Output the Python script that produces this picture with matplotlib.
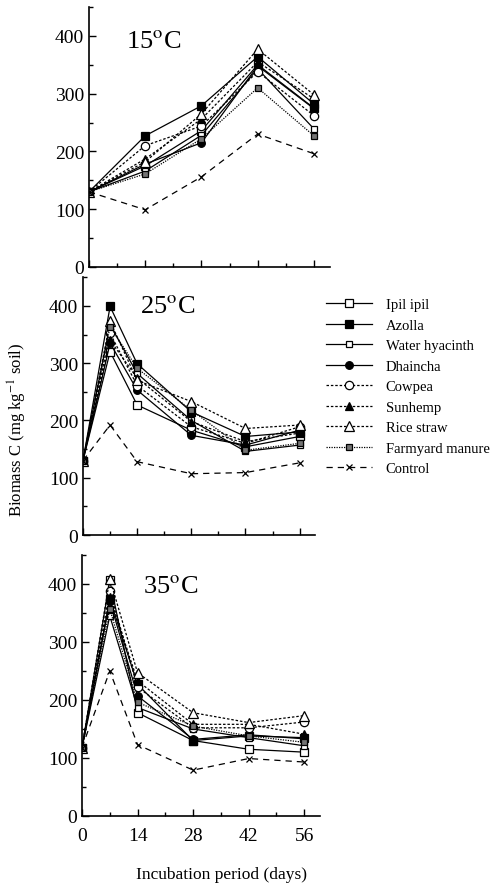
import matplotlib.pyplot as plt
from matplotlib.ticker import MultipleLocator

plt.rcParams['font.family'] = ['Liberation Serif', 'DejaVu Serif']
plt.rcParams['mathtext.fontset'] = 'stix'

##########
#  DATA  #
##########
names = ['Ipil ipil', 'Azolla', 'Water hyacinth', 'Dhaincha', 'Cowpea',
         'Sunhemp', 'Rice straw', 'Farmyard manure', 'Control']

days_15 = [0, 14, 28, 42, 56]
days_hot = [0, 7, 14, 28, 42, 56]

# 15 C
ipil_15 = [130, 175, 236, 350, 275]
azolla_15 = [130, 227, 279, 364, 282]
hyacinth_15 = [130, 166, 228, 343, 239]
dhaincha_15 = [130, 178, 215, 348, 274]
cowpea_15 = [130, 210, 244, 338, 262]
sunhemp_15 = [130, 187, 256, 355, 291]
rice_15 = [130, 182, 265, 377, 298]
fym_15 = [130, 161, 222, 310, 227]
control_15 = [130, 99, 156, 230, 196]

# 25 C
ipil_25 = [130, 320, 227, 183, 154, 172]
azolla_25 = [130, 399, 299, 215, 172, 180]
hyacinth_25 = [130, 367, 282, 200, 146, 157]
dhaincha_25 = [130, 335, 253, 174, 157, 183]
cowpea_25 = [130, 352, 261, 189, 160, 189]
sunhemp_25 = [130, 340, 274, 198, 163, 178]
rice_25 = [130, 373, 270, 233, 186, 192]
fym_25 = [130, 364, 291, 218, 148, 160]
control_25 = [130, 192, 128, 107, 109, 126]

# 35 C
ipil_35 = [118, 406, 178, 130, 115, 110]
azolla_35 = [118, 374, 227, 130, 138, 135]
hyacinth_35 = [118, 345, 187, 150, 135, 121]
dhaincha_35 = [118, 371, 207, 132, 140, 133]
cowpea_35 = [118, 388, 222, 152, 152, 162]
sunhemp_35 = [118, 377, 233, 158, 158, 141]
rice_35 = [118, 409, 247, 178, 161, 173]
fym_35 = [118, 357, 196, 155, 138, 127]
control_35 = [118, 250, 123, 79, 99, 93]

panels = [
    ('15', days_15, [ipil_15, azolla_15, hyacinth_15, dhaincha_15, cowpea_15,
                     sunhemp_15, rice_15, fym_15, control_15]),
    ('25', days_hot, [ipil_25, azolla_25, hyacinth_25, dhaincha_25, cowpea_25,
                      sunhemp_25, rice_25, fym_25, control_25]),
    ('35', days_hot, [ipil_35, azolla_35, hyacinth_35, dhaincha_35, cowpea_35,
                      sunhemp_35, rice_35, fym_35, control_35]),
]

##########
# STYLES #
##########
dot = (0, (2, 1.5))
styles = [
    dict(ls='-', marker='s', mfc='white', ms=6),
    dict(ls='-', marker='s', mfc='black', ms=6),
    dict(ls='-', marker='s', mfc='white', ms=4),
    dict(ls='-', marker='o', mfc='black', ms=5.5),
    dict(ls=dot, marker='o', mfc='white', ms=6),
    dict(ls=dot, marker='^', mfc='black', ms=6),
    dict(ls=dot, marker='^', mfc='white', ms=6.5),
    dict(ls=(0, (1, 1)), marker='s', mfc='0.45', ms=4.5),
    dict(ls=(0, (5, 4)), marker='x', mfc='black', ms=5),
]

# axes boxes [left, bottom, width, height] in figure fraction
boxes = [
    [0.179, 0.7006, 0.485, 0.2905],
    [0.167, 0.4011, 0.467, 0.288],
    [0.165, 0.0872, 0.479, 0.2916],
]
label_pos = [(0.155, 0.87), (0.245, 0.89), (0.255, 0.88)]

fig = plt.figure(figsize=(4.97, 8.95), dpi=100)

lines = []
for i, (temp, days, series) in enumerate(panels):
    ax = fig.add_axes(boxes[i])
    for vals, st in zip(series, styles):
        ln, = ax.plot(days, vals, color='black', lw=0.9, mec='black',
                      mew=0.9, **st)
        if i == 1:
            lines.append(ln)
    ax.set_xlim(0, 60)
    ax.set_ylim(0, 450)
    ax.spines['top'].set_visible(False)
    ax.spines['right'].set_visible(False)
    ax.spines['left'].set_linewidth(1.2)
    ax.spines['bottom'].set_linewidth(1.2)
    ax.set_xticks([0, 14, 28, 42, 56])
    ax.xaxis.set_minor_locator(MultipleLocator(7))
    ax.set_yticks([0, 100, 200, 300, 400])
    ax.yaxis.set_minor_locator(MultipleLocator(50))
    ax.tick_params(direction='in', labelsize=14, length=5, width=1)
    ax.tick_params(axis='x', pad=8)
    ax.tick_params(which='minor', direction='in', length=3, width=1)
    if i < 2:
        ax.tick_params(axis='x', labelbottom=False)
    ax.text(label_pos[i][0], label_pos[i][1], temp + r'$^{\rm o}$C',
            transform=ax.transAxes, fontsize=19, va='center', ha='left')

fig.legend(lines, names, loc='upper left', bbox_to_anchor=(0.632, 0.679),
           frameon=False, fontsize=10.5, handlelength=3.2, handletextpad=0.9,
           labelspacing=0.5, borderpad=0.3)

fig.text(0.035, 0.52, r'Biomass C (mg kg$^{-1}$ soil)', rotation=90,
         ha='center', va='center', fontsize=12)
fig.text(0.445, 0.022, 'Incubation period (days)', ha='center', va='center',
         fontsize=12.5)

plt.savefig('out.png', dpi=100)
